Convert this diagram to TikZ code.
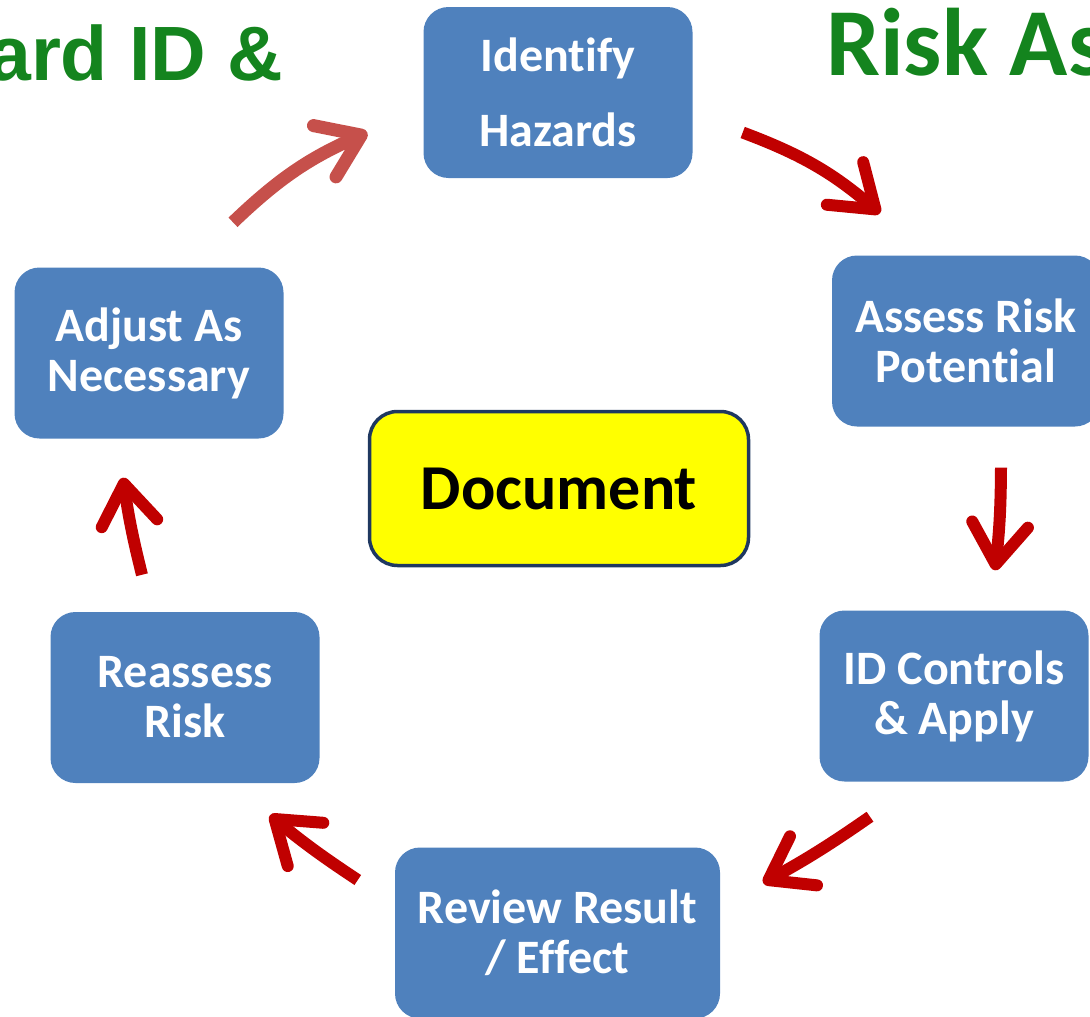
\documentclass[tikz,border=0pt]{standalone}
\usepackage{fontspec}
\setmainfont{Carlito}[Ligatures=NoCommon]
\newfontfamily\arialfont{Liberation Sans}
\usetikzlibrary{arrows.meta}

\definecolor{stepblue}{RGB}{79,129,189}
\definecolor{docyellow}{RGB}{255,255,0}
\definecolor{docnavy}{RGB}{31,56,96}
\definecolor{titlegreen}{RGB}{20,132,30}
\definecolor{arrowred}{RGB}{192,0,0}
\definecolor{softred}{RGB}{198,80,75}

\tikzset{
  stepbox/.style={fill=stepblue, rounded corners=25pt, text=white, align=center,
    font=\bfseries\fontsize{48}{50}\selectfont, minimum width=269pt, minimum height=171pt, inner sep=0pt},
  docbox/.style={draw=docnavy, line width=3.5pt, fill=docyellow, rounded corners=28pt,
    font=\bfseries\fontsize{64}{70}\selectfont, minimum width=379pt, minimum height=154pt, inner sep=0pt},
  titletext/.style={anchor=base west, inner sep=0pt, text=titlegreen},
  flow/.style={draw=arrowred, line width=12pt, -{Straight Barb[round,length=40pt,width=56pt]}},
}

\begin{document}
\begin{tikzpicture}[x=1pt,y=1pt,yscale=-1]
\useasboundingbox (0,0) rectangle (1090,1017);
\clip (0,0) rectangle (1090,1017);

% titles, cut by the edges
\node (ttl) [titletext, font=\arialfont\bfseries\fontsize{77}{80}\selectfont] at (-12,80) {ard ID \&};
\node (ttr) [titletext, font=\bfseries\fontsize{96}{100}\selectfont] at (826,75) {Risk As};

% cycle steps
\node (haz) [stepbox] at (558,92.5) {Identify\\[25pt]Hazards};
\node (ass) [stepbox, minimum width=268pt] at (966,341) {Assess Risk\\Potential};
\node (ctl) [stepbox] at (954,696) {ID Controls\\\& Apply};
\node (rev) [stepbox, minimum width=325pt] at (557.5,933) {Review Result\\/ Effect};
\node (rea) [stepbox] at (185,697.5) {Reassess\\Risk};
\node (adj) [stepbox] at (149,353) {Adjust As\\Necessary};

% centre
\node (doc) [docbox] at (559,488.5) {Document};

% arrows
\draw [flow, draw=softred, line width=13pt] ([shift={(84,-45)}]adj.north) to [bend right=10] ([shift={(-56,40)}]haz.west);
\draw [flow] ([shift={(50,40)}]haz.east) to [bend right=10] ([shift={(-86,-42)}]ass.north);
\draw [flow] ([shift={(35,41)}]ass.south) to [bend right=3] ([shift={(41,-40)}]ctl.north);
\draw [flow] ([shift={(-84,35)}]ctl.south) to [bend right=3] ([shift={(43,-50)}]rev.east);
\draw [flow] ([shift={(-37,-53)}]rev.west) to [bend right=3] ([shift={(85,32)}]rea.south);
\draw [flow] ([shift={(-43,-37)}]rea.north) to [bend right=3] ([shift={(-26,39)}]adj.south);

\end{tikzpicture}
\end{document}
